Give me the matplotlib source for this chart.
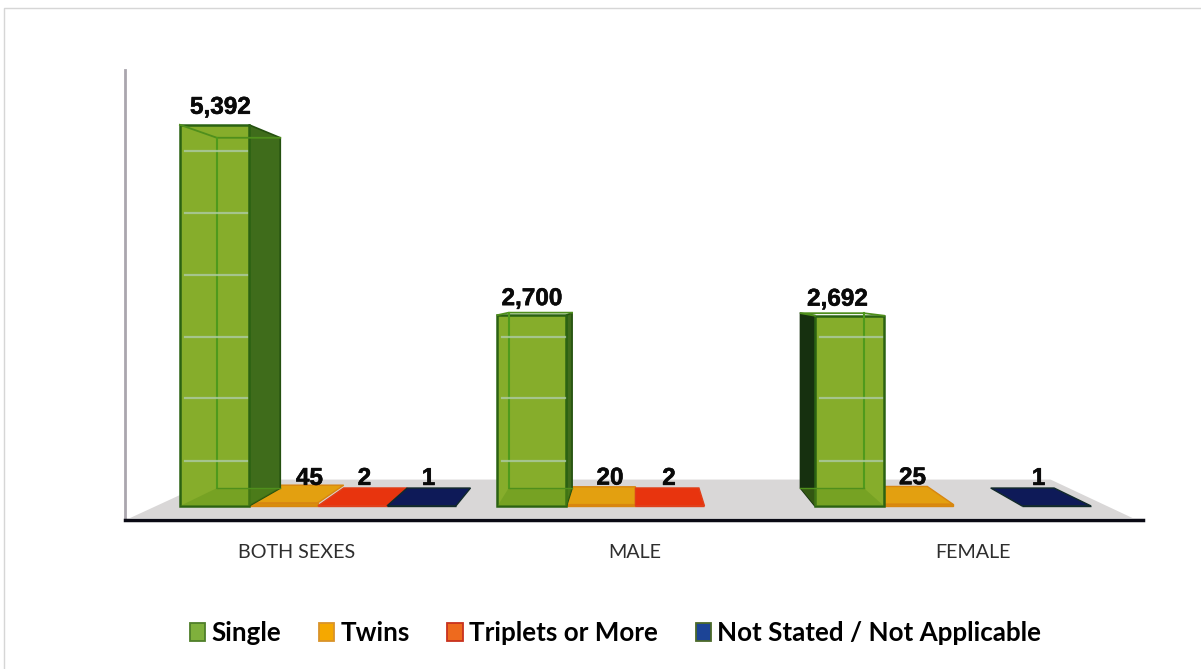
import numpy as np
import matplotlib
matplotlib.use('Agg')
import matplotlib.pyplot as plt
import matplotlib.patheffects as pe
from matplotlib.lines import Line2D
from matplotlib.patches import Patch

categories = ['BOTH SEXES', 'MALE', 'FEMALE']
series_names = ['Single', 'Twins', 'Triplets or More', 'Not Stated / Not Applicable']
single = [5392, 2700, 2692]
twins = [45, 20, 25]
triplets = [2, 2, np.nan]
not_stated = [1, np.nan, 1]
all_series = [single, twins, triplets, not_stated]

front_colors = ['#86ad2b', '#d98f0c', '#d8300f', '#0d1650']
top_colors = ['#86ad2b', '#e3a010', '#e8340e', '#0e1a58']
edge_colors = ['#2b6212', '#d8860f', '#e0401a', '#122a2a']
legend_colors = ['#7fb03c', '#f5a800', '#ee6a1e', '#1c4496']
legend_edges = ['#4f7f2a', '#d9932a', '#c8321e', '#4c6a2a']

# pale lines showing through the glass bars
grid_lines = [636, 1528, 2390, 3267, 4144, 5021]

# label nudges in pixels, same shape as all_series
label_dx = [[6, 0, -12], [26, 9, -6], [12, -1, 0], [7, 0, -18]]
label_dy = [[11, 10, 10], [18, 20, 20], [21, 21, 0], [21, 0, 21]]

bar_w = 0.2173
tick_pos = [0.368, 1.432, 2.497]
depth = 0.081
floor_depth = 0.165
vanish = (1.436, 3127)


def to_back(x, y, k=depth):
    return x + (vanish[0] - x) * k, y + (vanish[1] - y) * k


plt.rcParams['font.family'] = ['Lato', 'DejaVu Sans']
fig = plt.figure(figsize=(12.01, 6.69), dpi=100)
ax = fig.add_axes([125 / 1201, (669 - 520) / 669, 1018 / 1201, 450 / 669])
ax.set_xlim(-0.173, 3.033)
ax.set_ylim(-198, 6167)
ax.patch.set_alpha(0)

# floor
fx0, fx1, fy = -0.157, 3.0, -170
bx0, by = to_back(fx0, fy, floor_depth)
bx1, _ = to_back(fx1, fy, floor_depth)
ax.fill([fx0, fx1, bx1, bx0], [fy, fy, by, by], color='#d9d7d7', lw=0, zorder=1)

for j, values in enumerate(all_series):
    for i, v in enumerate(values):
        if np.isnan(v):
            continue
        x0 = i + j * bar_w
        x1 = x0 + bar_w
        z = 4 if j == 0 else 3 + j * 0.1
        tl = to_back(x0, v)
        tr = to_back(x1, v)
        bl = to_back(x0, 0)
        br = to_back(x1, 0)

        if j > 0:
            ax.fill([x0, x1, tr[0], tl[0]], [v, v, tr[1], tl[1]], fc=top_colors[j],
                    ec=edge_colors[j], lw=1, zorder=z)
        # side wall facing the viewer
        if j == 0 and x1 < vanish[0]:
            ax.fill([x1, tr[0], br[0], x1], [v, tr[1], br[1], 0], fc='#3f6c1b',
                    ec='#24500f', lw=1.2, zorder=z)
        if j == 0 and x0 > vanish[0]:
            ax.fill([x0, tl[0], bl[0], x0], [v, tl[1], bl[1], 0], fc='#16300f',
                    ec='#16300f', lw=1.2, zorder=z)

        ax.bar(x0, v, width=bar_w, align='edge', color=front_colors[j],
               edgecolor=edge_colors[j], linewidth=1.8 if j == 0 else 1, zorder=z + 0.1)

        if j == 0:
            # floor of the box, seen through the front
            ax.fill([x0, x1, br[0], bl[0]], [0, 0, br[1], bl[1]], color='#5f9218',
                    alpha=0.4, lw=0, zorder=z + 0.2)
            # back edges
            ax.plot([x0, tl[0], tr[0]], [v, tl[1], tr[1]], color='#4f8f1c', lw=1.3, zorder=z + 0.3)
            if x1 < vanish[0]:
                inner_x = tl[0]
            else:
                inner_x = tr[0]
                ax.plot([x1, tr[0]], [v, tr[1]], color='#4f8f1c', lw=1.3, zorder=z + 0.3)
            ax.plot([inner_x, inner_x], [tl[1], bl[1]], color='#4f9a1c', lw=1.5, zorder=z + 0.3)
            ax.plot([bl[0], br[0]], [bl[1], br[1]], color='#4f8f1c', lw=1, zorder=z + 0.3)
            for g in grid_lines:
                if g < v:
                    ax.plot([x0 + 0.015, x1 - 0.005], [g, g], color='#aecba6', lw=1.6,
                            alpha=0.8, zorder=z + 0.3)

        ax.annotate(f'{v:,}', (x0 + bar_w / 2, v),
                    xytext=(label_dx[j][i] * 0.72, label_dy[j][i] * 0.72),
                    textcoords='offset points', ha='center', va='baseline', fontsize=17.5,
                    fontweight='bold', family=['Liberation Sans Narrow', 'Liberation Sans'],
                    color='#0a0a0a', zorder=8,
                    path_effects=[pe.withStroke(linewidth=0.4, foreground='#0a0a0a')])

ax.spines['top'].set_visible(False)
ax.spines['right'].set_visible(False)
ax.spines['left'].set_color('#aaa6ae')
ax.spines['left'].set_linewidth(2)
ax.spines['bottom'].set_color('#0a0a14')
ax.spines['bottom'].set_linewidth(2.5)
ax.set_yticks([])
ax.set_xticks(tick_pos)
ax.set_xticklabels(categories, fontsize=14.2, color='#2e2e2e')
ax.tick_params(axis='x', length=0, pad=17)

handles = [Patch(facecolor=c, edgecolor=e, linewidth=1.3)
           for c, e in zip(legend_colors, legend_edges)]
fig.legend(handles, series_names, loc='center', bbox_to_anchor=(615.5 / 1201, 1 - 633 / 669),
           ncol=4, frameon=False, handlelength=0.58, handleheight=0.7, handletextpad=0.25,
           columnspacing=1.45, prop={'family': 'Lato', 'weight': 'bold', 'size': 18.7})

# thin frame of the scanned page
fig.add_artist(Line2D([4 / 1201, 4 / 1201, 1], [0, 1 - 8 / 669, 1 - 8 / 669],
                      color='#d6d6d6', lw=1))

fig.savefig('out.png', dpi=100)
